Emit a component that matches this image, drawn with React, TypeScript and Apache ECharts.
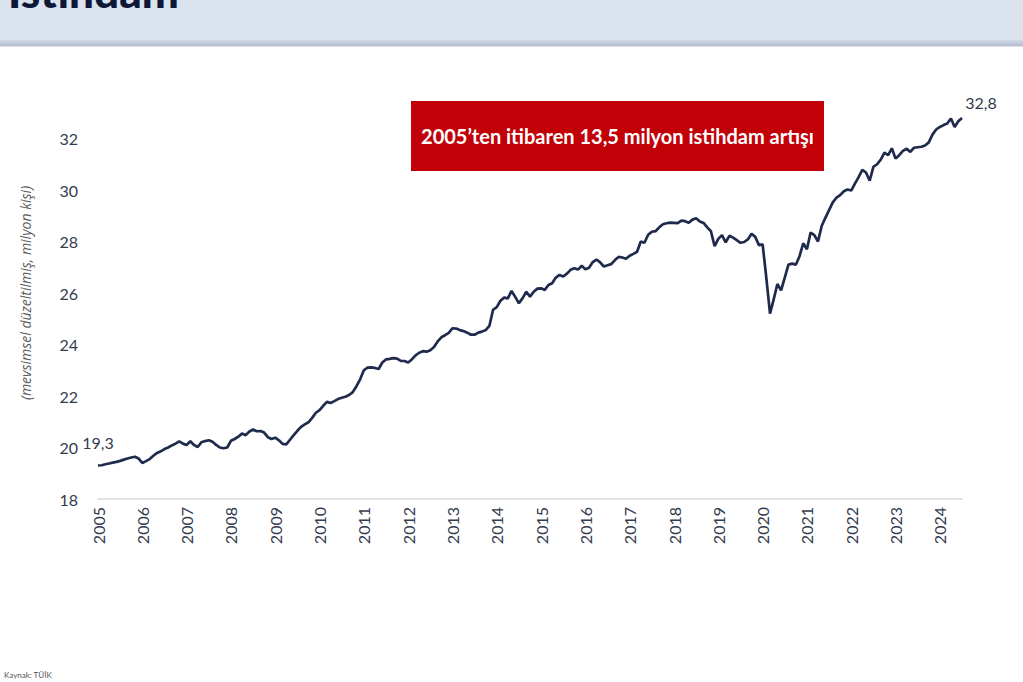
import React, { useEffect, useRef } from "react";
import * as echarts from "echarts";

const years = [
  "2005", "2006", "2007", "2008", "2009", "2010", "2011", "2012", "2013", "2014",
  "2015", "2016", "2017", "2018", "2019", "2020", "2021", "2022", "2023", "2024",
];

const y2005 = [19.3, 19.31, 19.35, 19.38, 19.41, 19.44, 19.48, 19.53, 19.57, 19.61, 19.64, 19.57];
const y2006 = [19.4, 19.47, 19.55, 19.68, 19.79, 19.85, 19.94, 20.0, 20.08, 20.15, 20.24, 20.15];
const y2007 = [20.1, 20.24, 20.1, 20.02, 20.2, 20.25, 20.28, 20.22, 20.1, 20.0, 19.97, 20.0];
const y2008 = [20.26, 20.33, 20.42, 20.54, 20.48, 20.62, 20.7, 20.63, 20.64, 20.58, 20.4, 20.33];
const y2009 = [20.38, 20.28, 20.14, 20.12, 20.3, 20.48, 20.65, 20.8, 20.9, 20.98, 21.15, 21.35];
const y2010 = [21.45, 21.62, 21.77, 21.73, 21.8, 21.88, 21.93, 21.97, 22.04, 22.15, 22.38, 22.65];
const y2011 = [23.0, 23.1, 23.11, 23.09, 23.05, 23.3, 23.42, 23.44, 23.47, 23.45, 23.36, 23.36];
const y2012 = [23.3, 23.42, 23.58, 23.68, 23.74, 23.72, 23.78, 23.9, 24.12, 24.28, 24.36, 24.45];
const y2013 = [24.63, 24.62, 24.56, 24.52, 24.46, 24.38, 24.38, 24.46, 24.5, 24.56, 24.72, 25.35];
const y2014 = [25.45, 25.7, 25.82, 25.79, 26.08, 25.85, 25.6, 25.8, 26.05, 25.86, 26.05, 26.17];
const y2015 = [26.18, 26.12, 26.31, 26.38, 26.6, 26.7, 26.64, 26.75, 26.9, 26.96, 26.91, 27.06];
const y2016 = [26.92, 26.98, 27.2, 27.3, 27.19, 27.03, 27.08, 27.12, 27.28, 27.4, 27.38, 27.33];
const y2017 = [27.45, 27.52, 27.6, 28.0, 27.95, 28.26, 28.38, 28.4, 28.55, 28.67, 28.71, 28.73];
const y2018 = [28.72, 28.71, 28.81, 28.79, 28.73, 28.85, 28.9, 28.78, 28.72, 28.55, 28.4, 27.82];
const y2019 = [28.1, 28.25, 27.97, 28.22, 28.15, 28.05, 27.95, 27.98, 28.08, 28.3, 28.18, 27.86];
const y2020 = [27.89, 26.6, 25.2, 25.75, 26.35, 26.1, 26.6, 27.1, 27.14, 27.1, 27.43, 27.93];
const y2021 = [27.7, 28.35, 28.25, 28.0, 28.6, 28.92, 29.22, 29.52, 29.7, 29.8, 29.95, 30.02];
const y2022 = [29.98, 30.25, 30.5, 30.78, 30.68, 30.36, 30.9, 31.0, 31.18, 31.45, 31.35, 31.62];
const y2023 = [31.22, 31.35, 31.52, 31.6, 31.48, 31.64, 31.66, 31.68, 31.73, 31.85, 32.15, 32.35];
const y2024 = [32.45, 32.52, 32.58, 32.78, 32.45, 32.67, 32.8];

const yearly = [
  y2005, y2006, y2007, y2008, y2009, y2010, y2011, y2012, y2013, y2014,
  y2015, y2016, y2017, y2018, y2019, y2020, y2021, y2022, y2023, y2024,
];

const title = "İstihdam";
const yAxisName = "(mevsimsel düzeltilmiş, milyon kişi)";
const boxText = "2005’ten itibaren 13,5 milyon istihdam artışı";
const source = "Kaynak: TÜİK";

const TEXT = "#333c4e";
const LINE = "#1f2a4c";

export default function App() {
  const ref = useRef<HTMLDivElement>(null);

  useEffect(() => {
    if (!ref.current) return;
    const chart = echarts.init(ref.current, undefined, { renderer: "svg" });

    const categories: string[] = [];
    const values: number[] = [];
    yearly.forEach((arr, yi) => {
      arr.forEach((v, mi) => {
        categories.push(`${years[yi]}-${String(mi + 1).padStart(2, "0")}`);
        values.push(v);
      });
    });
    const fmt = (v: number) => v.toFixed(1).replace(".", ",");
    const last = values.length - 1;

    chart.setOption({
      animation: false,
      backgroundColor: "#ffffff",
      textStyle: { fontFamily: "Lato, 'Open Sans', sans-serif" },
      grid: { left: 98, right: 61, top: 87, bottom: 183, containLabel: false },
      xAxis: {
        type: "category",
        data: categories,
        boundaryGap: false,
        axisLine: { show: true, lineStyle: { color: "#d9d9d9", width: 1.5 } },
        axisTick: { show: false },
        splitLine: { show: false },
        axisLabel: {
          rotate: 90,
          interval: (i: number) => i % 12 === 0,
          formatter: (v: string) => v.slice(0, 4),
          color: TEXT,
          fontSize: 16,
          margin: 8,
          fontFamily: "Lato, sans-serif",
        },
      },
      yAxis: {
        type: "value",
        min: 18,
        max: 34,
        interval: 2,
        axisLine: { show: false },
        axisTick: { show: false },
        splitLine: { show: false },
        axisLabel: { color: TEXT, fontSize: 16, margin: 20, showMaxLabel: false, fontFamily: "Lato, sans-serif" },
        name: yAxisName,
        nameLocation: "middle",
        nameGap: 66,
        nameTextStyle: { color: "#595959", fontSize: 14, fontStyle: "italic", fontFamily: "'Open Sans', sans-serif" },
      },
      series: [
        {
          type: "line",
          data: values,
          showSymbol: false,
          symbol: "none",
          lineStyle: { color: LINE, width: 2.7 },
          itemStyle: { color: LINE },
          markPoint: {
            symbol: "circle",
            symbolSize: 2,
            itemStyle: { color: "rgba(0,0,0,0)" },
            silent: true,
            data: [
              {
                coord: [categories[0], values[0]],
                label: {
                  show: true,
                  position: "top",
                  distance: 14,
                  formatter: () => fmt(values[0]),
                  color: TEXT,
                  fontSize: 16,
                  fontFamily: "Lato, sans-serif",
                },
              },
              {
                coord: [categories[last], values[last]],
                label: {
                  show: true,
                  position: "top",
                  distance: 6,
                  offset: [19, 0],
                  formatter: () => fmt(values[last]),
                  color: TEXT,
                  fontSize: 16,
                  fontFamily: "Lato, sans-serif",
                },
              },
            ],
          },
        },
      ],
      graphic: [
        {
          type: "rect",
          left: 0,
          top: 0,
          shape: { width: 1023, height: 40 },
          style: { fill: "#dbe3ef" },
          silent: true,
        },
        {
          type: "rect",
          left: 0,
          top: 40,
          shape: { width: 1023, height: 6 },
          style: {
            fill: new echarts.graphic.LinearGradient(0, 0, 0, 1, [
              { offset: 0, color: "#d3dbe9" },
              { offset: 1, color: "#b3bbd0" },
            ]),
          },
          silent: true,
        },
        {
          type: "rect",
          left: 0,
          top: 46,
          shape: { width: 1023, height: 1 },
          style: { fill: "#e4e6ec" },
          silent: true,
        },
        {
          type: "text",
          left: 8,
          top: -31,
          style: { text: title, fill: "#0d1838", font: "900 44px Lato, 'DejaVu Sans', sans-serif" },
          silent: true,
        },
        {
          type: "rect",
          left: 411,
          top: 101,
          shape: { width: 413, height: 70 },
          style: { fill: "#c20008" },
          silent: true,
        },
        {
          type: "text",
          x: 617.5,
          y: 136,
          style: {
            text: boxText,
            fill: "#ffffff",
            font: "bold 20px Lato, sans-serif",
            align: "center",
            verticalAlign: "middle",
          },
          silent: true,
        },
        {
          type: "text",
          left: 4,
          top: 671,
          style: { text: source, fill: "#555555", font: "8px Lato, sans-serif" },
          silent: true,
        },
      ],
    });

    return () => chart.dispose();
  }, []);

  return (
    <div
      ref={ref}
      style={{ position: "fixed", left: 0, top: 0, width: 1023, height: 682, background: "#fff" }}
    />
  );
}
